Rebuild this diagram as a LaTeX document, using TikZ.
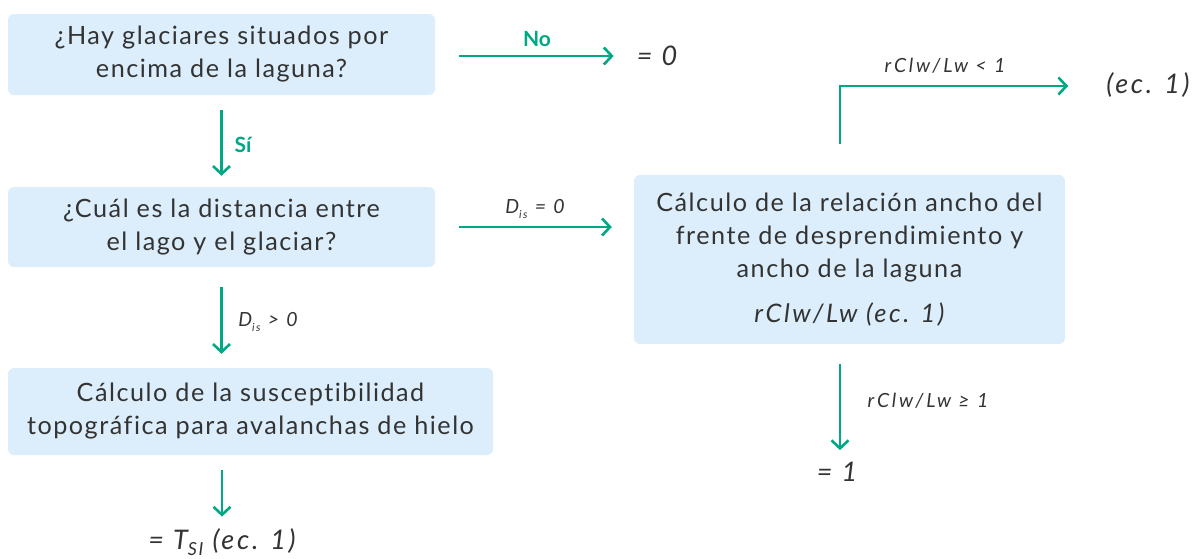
\documentclass[tikz,border=0pt]{standalone}
\usepackage{fontspec}
\setmainfont{Lato}
\newfontfamily\boxfont{Lato}[LetterSpace=6,Ligatures=NoCommon]
\newfontfamily\lblfont{Lato}[LetterSpace=14]
\newfontfamily\resfont{Lato}[LetterSpace=10]
\usetikzlibrary{arrows.meta}
\definecolor{boxblue}{HTML}{DCEEFB}
\definecolor{grn}{HTML}{00A884}
\definecolor{txt}{HTML}{333333}
\newcommand{\Dsub}{D\raisebox{-0.22em}{\fontsize{11}{11}\selectfont is}}
\begin{document}
\begin{tikzpicture}[x=1pt,y=-1pt,
  box/.style={fill=boxblue,rounded corners=6pt,align=center,text=txt,
    font=\fontsize{25.2}{33}\selectfont\boxfont,inner sep=0pt},
  arr/.style={draw=grn,line width=2.6pt,
    -{Straight Barb[length=8pt,width=17pt,line width=2.6pt]}},
  lbl/.style={text=txt,font=\fontsize{19.5}{22}\selectfont\lblfont\itshape,inner sep=0pt},
  yn/.style={text=grn,font=\fontsize{21}{22}\selectfont\bfseries,inner sep=0pt},
  res/.style={text=txt,font=\fontsize{27}{30}\selectfont\resfont\itshape,inner sep=0pt}]
\useasboundingbox (0,0) rectangle (1195,558);
% boxes
\node[box,minimum width=427pt,minimum height=81pt] (b1) at (221.5,54.5)
  {¿Hay glaciares situados por\\encima de la laguna?};
\node[box,minimum width=427pt,minimum height=80pt] (b2) at (221.5,227)
  {¿Cuál es la distancia entre\\el lago y el glaciar?};
\node[box,minimum width=431pt,minimum height=169pt] (b3) at (849.5,259.5)
  {Cálculo de la relación ancho del\\frente de desprendimiento y\\ancho de la laguna\\[12pt]
   {\fontsize{25.5}{30}\selectfont\resfont\itshape rClw/Lw (ec. 1)}};
\node[box,minimum width=485pt,minimum height=87pt] (b4) at (250.5,411.5)
  {Cálculo de la susceptibilidad\\topográfica para avalanchas de hielo};
% results
\node[res] (zero) at (657,56) {= 0};
\node[res] (ec) at (1148,85) {(ec. 1)};
\node[res] (one) at (837,472) {= 1};
\node[res] (tsi) at (222,542) {= T\raisebox{-0.2em}{\fontsize{18}{18}\selectfont SI} (ec. 1)};
% labels
\node[yn] (lno) at (537,39) {No};
\node[yn] (lsi) at (243,145) {Sí};
\node[lbl] (ld0) at (535,209) {\Dsub{} = 0};
\node[lbl] (ldg) at (268,322) {\Dsub{} > 0};
\node[lbl] (llt) at (945,66) {rClw/Lw < 1};
\node[lbl] (lge) at (928,401) {rClw/Lw ≥ 1};
% connectors
\coordinate (turn) at (840,86);
\draw[arr,shorten <=24pt,shorten >=23pt] (b1.east |- zero) -- (zero.west);
\draw[arr,shorten <=15pt,shorten >=11pt] (b1.south) -- (b2.north);
\draw[arr,shorten <=24pt,shorten >=22pt] (b2.east) -- (b2.east -| b3.west);
\draw[arr,shorten <=20pt,shorten >=14pt] (b2.south) -- (b2.south |- b4.north);
\draw[arr,shorten <=15pt,shorten >=12pt] (b4.south -| tsi.north) -- (tsi.north);
\draw[arr,shorten <=31pt,shorten >=38pt] (b3.north -| turn) -- (turn) -- (turn -| ec.west);
\draw[arr,shorten <=20pt,shorten >=12pt] (b3.south -| turn) -- (one.north -| turn);
\end{tikzpicture}
\end{document}
